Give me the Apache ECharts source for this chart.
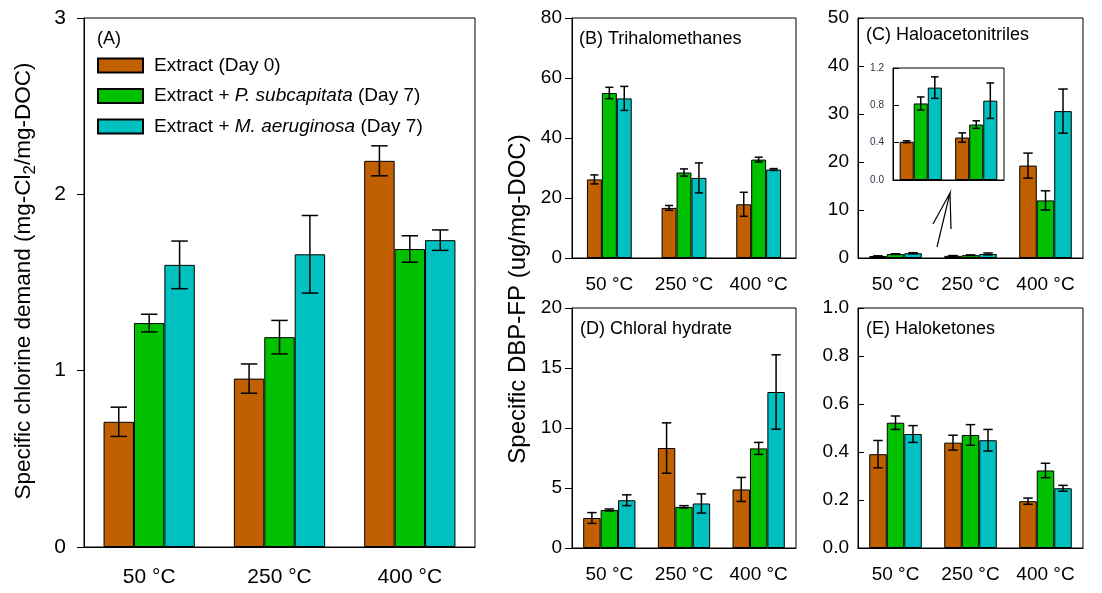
<!DOCTYPE html>
<html>
<head>
<meta charset="utf-8">
<script src="https://cdn.jsdelivr.net/npm/echarts@6/dist/echarts.min.js"></script>
<style>
  html, body { margin: 0; padding: 0; background: #fff; }
  #main { width: 1102px; height: 593px; }
</style>
</head>
<body>
<div id="main"></div>
<script>
var FONT = 'Liberation Sans'
var temps = ['50 °C', '250 °C', '400 °C']
var names = ['Extract (Day 0)', 'Extract + P. subcapitata (Day 7)', 'Extract + M. aeruginosa (Day 7)']
var colors = ['#c06000', '#00c000', '#00c0c0']

// (A) specific chlorine demand, rows = series
var demandMean = [[0.71, 0.955, 2.19], [1.27, 1.19, 1.69], [1.60, 1.66, 1.74]]
var demandErr = [[0.083, 0.083, 0.085], [0.05, 0.095, 0.075], [0.135, 0.22, 0.058]]
// (B) trihalomethanes
var thmMean = [[26.2, 16.7, 17.9], [55.0, 28.5, 32.8], [53.2, 26.7, 29.5]]
var thmErr = [[1.5, 0.8, 4.0], [1.9, 1.2, 0.8], [4.0, 5.0, 0.3]]
// (C) haloacetonitriles
var hanMean = [[0.41, 0.455, 19.25], [0.82, 0.594, 12.0], [0.99, 0.85, 30.6]]
var hanErr = [[0.01, 0.05, 2.6], [0.07, 0.04, 2.0], [0.115, 0.19, 4.6]]
// (D) chloral hydrate
var chMean = [[2.5, 8.33, 4.88], [3.17, 3.43, 8.3], [3.98, 3.71, 13.0]]
var chErr = [[0.45, 2.1, 1.0], [0.08, 0.1, 0.5], [0.45, 0.8, 3.1]]
// (E) haloketones
var hkMean = [[0.391, 0.439, 0.195], [0.522, 0.471, 0.323], [0.475, 0.449, 0.249]]
var hkErr = [[0.057, 0.031, 0.013], [0.028, 0.043, 0.03], [0.035, 0.045, 0.012]]

var chart = echarts.init(document.getElementById('main'))

function xAx(gi, cats, fs, margin, showLabel) {
  return {
    type: 'category', gridIndex: gi, data: cats,
    axisLine: { lineStyle: { color: '#000', width: 1 } },
    axisTick: { alignWithLabel: true, length: 7, lineStyle: { color: '#000' } },
    axisLabel: { show: showLabel, interval: 0, hideOverlap: false, fontSize: fs, color: '#000', fontFamily: FONT, margin: margin }
  }
}

function yAx(gi, max, step, fs, inside, dec, lblColor) {
  return {
    type: 'value', gridIndex: gi, min: 0, max: max, interval: step,
    splitLine: { show: false },
    axisLine: { show: true, lineStyle: { color: '#000', width: 1 } },
    axisTick: { show: true, inside: inside, length: inside ? 6 : 7, lineStyle: { color: '#000' } },
    axisLabel: {
      fontSize: fs, color: lblColor || '#000', fontFamily: FONT, margin: inside ? 9 : (fs > 19 ? 18 : 10),
      formatter: function (v) { return dec ? v.toFixed(dec) : String(v) }
    }
  }
}

function panel(mean, err, ai, gap, ncat, z) {
  var out = []
  for (var s = 0; s < 3; s++) {
    out.push({
      type: 'bar', name: names[s], xAxisIndex: ai, yAxisIndex: ai, z: z,
      data: mean[s].slice(0, ncat), barGap: 0, barCategoryGap: gap,
      itemStyle: { color: colors[s], borderColor: '#000', borderWidth: 1 },
      emphasis: { disabled: true }
    })
  }
  var eb = []
  for (var s = 0; s < 3; s++) {
    for (var c = 0; c < ncat; c++) {
      eb.push([c, mean[s][c] - err[s][c], mean[s][c] + err[s][c], s])
    }
  }
  var g = parseFloat(gap) / 100
  out.push({
    type: 'custom', xAxisIndex: ai, yAxisIndex: ai, z: z + 3, data: eb,
    encode: { x: 0, y: [1, 2] },
    renderItem: function (params, api) {
      var c = api.value(0)
      var lo = api.coord([c, api.value(1)])
      var hi = api.coord([c, api.value(2)])
      var band = api.size([1, 0])[0]
      var grp = band * (1 - g)
      var bw = grp / 3
      var x = lo[0] - grp / 2 + bw * (api.value(3) + 0.5)
      var cap = bw * 0.27
      var st = { stroke: '#000', lineWidth: 1.5 }
      return {
        type: 'group', children: [
          { type: 'line', shape: { x1: x, y1: lo[1], x2: x, y2: hi[1] }, style: st },
          { type: 'line', shape: { x1: x - cap, y1: lo[1], x2: x + cap, y2: lo[1] }, style: st },
          { type: 'line', shape: { x1: x - cap, y1: hi[1], x2: x + cap, y2: hi[1] }, style: st }
        ]
      }
    }
  })
  return out
}

function label(x, y, txt) {
  return { type: 'text', x: x, y: y, style: { text: txt, fontSize: 18, fontFamily: FONT, fill: '#000', verticalAlign: 'middle' } }
}

var gridBase = { show: true, borderColor: '#000', borderWidth: 1, containLabel: false }

var option = {
  animation: false,
  backgroundColor: '#fff',
  grid: [
    Object.assign({ left: 84, top: 18, width: 391, height: 529 }, gridBase),
    Object.assign({ left: 572, top: 18, width: 224, height: 240 }, gridBase),
    Object.assign({ left: 858, top: 18, width: 225, height: 240 }, gridBase),
    Object.assign({ left: 572, top: 308, width: 224, height: 240 }, gridBase),
    Object.assign({ left: 858, top: 308, width: 225, height: 240 }, gridBase),
    Object.assign({ left: 893, top: 68, width: 111, height: 112, backgroundColor: '#fff' }, gridBase)
  ],
  xAxis: [
    xAx(0, temps, 21, 20, true),
    xAx(1, temps, 19, 17, true),
    xAx(2, temps, 19, 17, true),
    xAx(3, temps, 19, 17, true),
    xAx(4, temps, 19, 17, true),
    xAx(5, temps.slice(0, 2), 10, 8, false)
  ],
  yAxis: [
    yAx(0, 3, 1, 21, false, 0),
    yAx(1, 80, 20, 19, false, 0),
    yAx(2, 50, 10, 19, true, 0),
    yAx(3, 20, 5, 19, false, 0),
    yAx(4, 1, 0.2, 19, true, 1),
    yAx(5, 1.2, 0.4, 10, true, 1, '#2b3548')
  ],
  legend: {
    left: 97, top: 56, padding: 0, orient: 'vertical', itemWidth: 45, itemHeight: 14, itemGap: 11.5,
    icon: 'rect', selectedMode: false,
    data: names,
    formatter: function (n) {
      if (n === names[1]) return '{n|Extract + }{i|P. subcapitata}{n| (Day 7)}'
      if (n === names[2]) return '{n|Extract + }{i|M. aeruginosa}{n| (Day 7)}'
      return '{n|' + n + '}'
    },
    textStyle: {
      padding: [0, 0, 0, 6],
      rich: {
        n: { fontSize: 19, fontFamily: FONT, color: '#000', lineHeight: 20 },
        i: { fontSize: 19, fontFamily: FONT, color: '#000', fontStyle: 'italic', lineHeight: 20 }
      }
    }
  },
  graphic: [
    label(97, 39, '(A)'),
    label(579, 39, '(B) Trihalomethanes'),
    label(866, 35, '(C) Haloacetonitriles'),
    label(580, 329, '(D) Chloral hydrate'),
    label(866, 329, '(E) Haloketones'),
    {
      type: 'text', x: 24, y: 281, rotation: Math.PI / 2,
      style: {
        text: '{n|Specific chlorine demand (mg-Cl}{s|2}{n|/mg-DOC)}',
        align: 'center', verticalAlign: 'middle', fill: '#000',
        rich: {
          n: { fontSize: 22.5, fontFamily: FONT, fill: '#000' },
          s: { fontSize: 17, fontFamily: FONT, fill: '#000', padding: [12, 0, 0, 0] }
        }
      }
    },
    {
      type: 'text', x: 518, y: 299, rotation: Math.PI / 2,
      style: { text: 'Specific DBP-FP (ug/mg-DOC)', fontSize: 24, fontFamily: FONT, fill: '#000', align: 'center', verticalAlign: 'middle' }
    },
    {
      type: 'polyline', z: 10,
      shape: { points: [[933, 224], [950, 193], [937, 247]] },
      style: { stroke: '#000', lineWidth: 1.2, fill: null }
    },
    {
      type: 'line', z: 10,
      shape: { x1: 950, y1: 193, x2: 951, y2: 229 },
      style: { stroke: '#000', lineWidth: 1.2 }
    }
  ],
  series: [].concat(
    panel(demandMean, demandErr, 0, '30%', 3, 2),
    panel(thmMean, thmErr, 1, '40%', 3, 2),
    panel(hanMean, hanErr, 2, '30%', 3, 2),
    panel(chMean, chErr, 3, '30%', 3, 2),
    panel(hkMean, hkErr, 4, '30%', 3, 2),
    panel(hanMean, hanErr, 5, '24%', 2, 4)
  )
}

chart.setOption(option)
</script>
</body>
</html>
